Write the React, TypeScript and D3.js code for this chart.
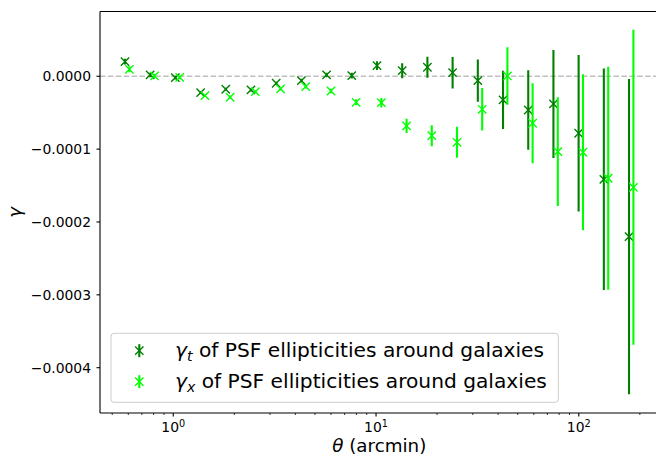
import React from "react";
import * as d3 from "d3";

// angular bins (arcmin)
const theta = [0.578, 0.769, 1.024, 1.364, 1.815, 2.417, 3.218, 4.284, 5.704, 7.594, 10.11, 13.46, 17.92, 23.86, 31.77, 42.3, 56.32, 74.98, 99.8, 132.9, 176.9];
// gamma_t (units of 1e-4)
const gammaT = [0.2, 0.018, -0.019, -0.225, -0.178, -0.188, -0.096, -0.06, 0.018, 0.008, 0.146, 0.077, 0.124, 0.049, -0.06, -0.325, -0.463, -0.38, -0.782, -1.414, -2.202];
const errT = [0.04, 0.03, 0.025, 0.02, 0.02, 0.02, 0.02, 0.025, 0.03, 0.04, 0.06, 0.103, 0.144, 0.217, 0.29, 0.4, 0.545, 0.741, 1.075, 1.521, 2.164];
// gamma_x (units of 1e-4)
const gammaX = [0.096, 0.004, -0.014, -0.266, -0.288, -0.211, -0.174, -0.143, -0.202, -0.357, -0.362, -0.682, -0.815, -0.906, -0.453, 0.004, -0.645, -1.035, -1.043, -1.4, -1.524];
const errX = [0.04, 0.03, 0.025, 0.02, 0.02, 0.02, 0.02, 0.025, 0.03, 0.04, 0.065, 0.098, 0.144, 0.213, 0.293, 0.395, 0.549, 0.746, 1.071, 1.53, 2.162];
const UNIT = 1e-4;
const X_OFFSET = 1.051; // gamma_x plotted slightly to the right

const yTicks = [0, -0.0001, -0.0002, -0.0003, -0.0004];
const yTickLabels = ["0.0000", "\u22120.0001", "\u22120.0002", "\u22120.0003", "\u22120.0004"];
const xTicks = [1, 10, 100];
const xTickExps = ["0", "1", "2"];
const legendLabels = [
  { sym: "\u03b3", sub: "t", rest: " of PSF ellipticities around galaxies" },
  { sym: "\u03b3", sub: "x", rest: " of PSF ellipticities around galaxies" },
];

const W = 656;
const H = 459;
const L = 100, R = 658.6, T = 11.5, B = 413;
const FONT = "DejaVu Sans, sans-serif";
const DARK = "#008000";
const LIGHT = "#00ff00";

export default function App() {
  const x = d3.scaleLog().domain([0.4352, 247.5]).range([L, R]);
  const y = d3.scaleLinear().domain([-4.622e-4, 0.889e-4]).range([B, T]);

  const minor: number[] = [];
  for (const dec of [0.1, 1, 10, 100]) {
    for (let m = 2; m <= 9; m++) {
      const v = dec * m;
      if (v >= x.domain()[0] && v <= x.domain()[1]) minor.push(v);
    }
  }

  const ms = 4.15;
  const series = [
    { vals: gammaT, errs: errT, color: DARK, off: 1 },
    { vals: gammaX, errs: errX, color: LIGHT, off: X_OFFSET },
  ];

  return (
    <svg width={W} height={H} style={{ position: "absolute", left: 0, top: 0, background: "#fff" }} fontFamily={FONT}>
      <defs>
        <clipPath id="plotclip">
          <rect x={L} y={T} width={R - L} height={B - T} />
        </clipPath>
      </defs>
      <rect x={0} y={0} width={W} height={H} fill="#fff" />
      <g clipPath="url(#plotclip)">
        <line x1={L} x2={R} y1={y(0)} y2={y(0)} stroke="#bfbfbf" strokeWidth={1.3} strokeDasharray="5.5,2.4" />
        {series.map((s, si) => (
          <g key={si}>
            {theta.map((t, i) => {
              const cx = x(t * s.off);
              const v = s.vals[i] * UNIT;
              const e = s.errs[i] * UNIT;
              return (
                <line key={"e" + i} x1={cx} x2={cx} y1={y(v + e)} y2={y(v - e)} stroke={s.color} strokeWidth={2.1} />
              );
            })}
            {theta.map((t, i) => {
              const cx = x(t * s.off);
              const cy = y(s.vals[i] * UNIT);
              return (
                <path key={"m" + i} d={`M${cx - ms},${cy - ms}L${cx + ms},${cy + ms}M${cx - ms},${cy + ms}L${cx + ms},${cy - ms}`} stroke={s.color} strokeWidth={1.4} fill="none" />
              );
            })}
          </g>
        ))}
      </g>
      {/* spines */}
      <line x1={L} x2={L} y1={T} y2={B} stroke="#000" strokeWidth={1.1} />
      <line x1={L} x2={R} y1={T} y2={T} stroke="#000" strokeWidth={1.1} />
      <line x1={L} x2={R} y1={B} y2={B} stroke="#000" strokeWidth={1.1} />
      <line x1={R} x2={R} y1={T} y2={B} stroke="#000" strokeWidth={1.1} />
      {/* y ticks */}
      {yTicks.map((t, i) => (
        <g key={i}>
          <line x1={L - 3.5} x2={L} y1={y(t)} y2={y(t)} stroke="#000" strokeWidth={1.1} />
          <text x={91} y={y(t)} dy="0.36em" textAnchor="end" fontSize={13.9} fill="#000">{yTickLabels[i]}</text>
        </g>
      ))}
      {/* x ticks */}
      {minor.map((t, i) => (
        <line key={i} x1={x(t)} x2={x(t)} y1={B} y2={B + 2} stroke="#000" strokeWidth={0.8} />
      ))}
      {xTicks.map((t, i) => (
        <g key={i}>
          <line x1={x(t)} x2={x(t)} y1={B} y2={B + 3.5} stroke="#000" strokeWidth={1.1} />
          <text x={x(t)} y={432} textAnchor="middle" fontSize={13.9} fill="#000">
            10<tspan fontSize={9.7} dy={-5.5}>{xTickExps[i]}</tspan>
          </text>
        </g>
      ))}
      {/* axis labels */}
      <text x={(L + R) / 2} y={452} textAnchor="middle" fontSize={18.3} fill="#000">
        <tspan fontStyle="italic">{"\u03b8"}</tspan> (arcmin)
      </text>
      <text transform={`translate(21,${(T + B) / 2}) rotate(-90)`} textAnchor="middle" fontSize={18.3} fontStyle="italic" fill="#000">{"\u03b3"}</text>
      {/* legend */}
      <rect x={111} y={333.3} width={447.3} height={69} rx={3} ry={3} fill="#fff" fillOpacity={0.8} stroke="#cccccc" strokeWidth={1} />
      {legendLabels.map((lab, i) => {
        const cy = 350.7 + i * 31;
        const color = i === 0 ? DARK : LIGHT;
        const hx = 139.3;
        return (
          <g key={i}>
            <line x1={hx} x2={hx} y1={cy - 6.5} y2={cy + 6.5} stroke={color} strokeWidth={2.1} />
            <path d={`M${hx - ms},${cy - ms}L${hx + ms},${cy + ms}M${hx - ms},${cy + ms}L${hx + ms},${cy - ms}`} stroke={color} strokeWidth={1.4} fill="none" />
            <text x={175} y={cy + 6.5} fontSize={20.2} fill="#000">
              <tspan fontStyle="italic">{lab.sym}</tspan>
              <tspan fontStyle="italic" fontSize={14.1} dy={4}>{lab.sub}</tspan>
              <tspan dy={-4}>{lab.rest}</tspan>
            </text>
          </g>
        );
      })}
    </svg>
  );
}
